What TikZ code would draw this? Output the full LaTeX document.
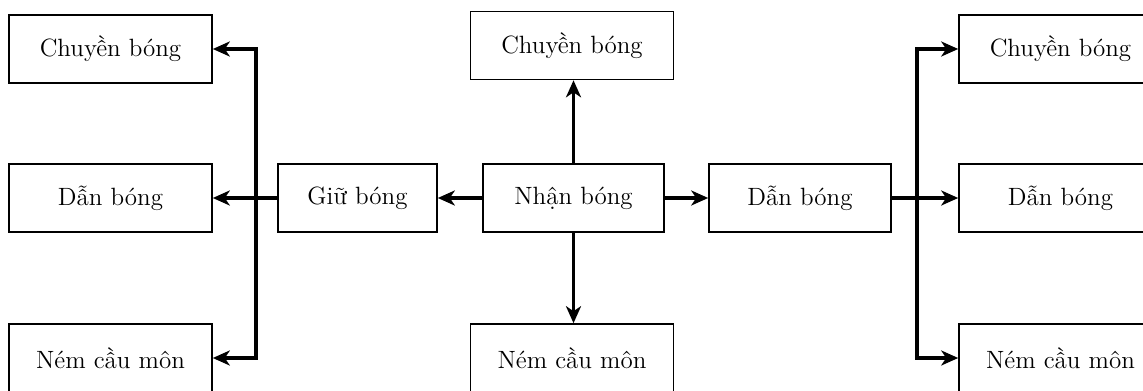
\documentclass[tikz,border=0pt]{standalone}
\usetikzlibrary{arrows.meta}
\begin{document}
\begin{tikzpicture}[x=0.5pt,y=-0.5pt,
  box/.style={draw, line width=0.8pt, minimum height=34pt, inner sep=0pt,
    font=\fontsize{12.5}{15}\selectfont},
  wide/.style={box, minimum width=101.5pt},
  flow/.style={line width=1.6pt, -{Stealth[length=8.5pt,width=7.5pt,inset=2.5pt]}},
  trunk/.style={line width=1.6pt}]
\clip (0,0) rectangle (1143,390);
% left branch
\node[wide] (lc) at (110.5,49) {Chuyền bóng};
\node[wide] (ld) at (110.5,198) {Dẫn bóng};
\node[wide] (ln) at (110.5,358) {Ném cầu môn};
\node[box, minimum width=79.5pt] (giu) at (357.5,198) {Giữ bóng};
% centre
\node[box, minimum width=90.5pt] (nhan) at (573.5,198) {Nhận bóng};
\node[wide] (tc) at (572,45.5) {Chuyền bóng};
\node[wide] (bn) at (572,358) {Ném cầu môn};
% right branch
\node[box, minimum width=91pt] (dan) at (800,198) {Dẫn bóng};
\node[wide] (rc) at (1060.5,49) {Chuyền bóng};
\node[wide] (rd) at (1060.5,198) {Dẫn bóng};
\node[wide] (rn) at (1060.5,358) {Ném cầu môn};
% connectors from the centre
\draw[flow] (nhan.north) -- (nhan.north |- tc.south);
\draw[flow] (nhan.south) -- (nhan.south |- bn.north);
\draw[flow] (nhan.west) -- (giu.east);
\draw[flow] (nhan.east) -- (dan.west);
% left fork
\coordinate (lj) at (256,198);
\draw[trunk] (giu.west) -- (lj);
\draw[flow] (lj) -- (ld.east);
\draw[flow] (lj) |- (lc.east);
\draw[flow] (lj) |- (ln.east);
% right fork
\coordinate (rj) at (917,198);
\draw[trunk] (dan.east) -- (rj);
\draw[flow] (rj) -- (rd.west);
\draw[flow] (rj) |- (rc.west);
\draw[flow] (rj) |- (rn.west);
\end{tikzpicture}
\end{document}
